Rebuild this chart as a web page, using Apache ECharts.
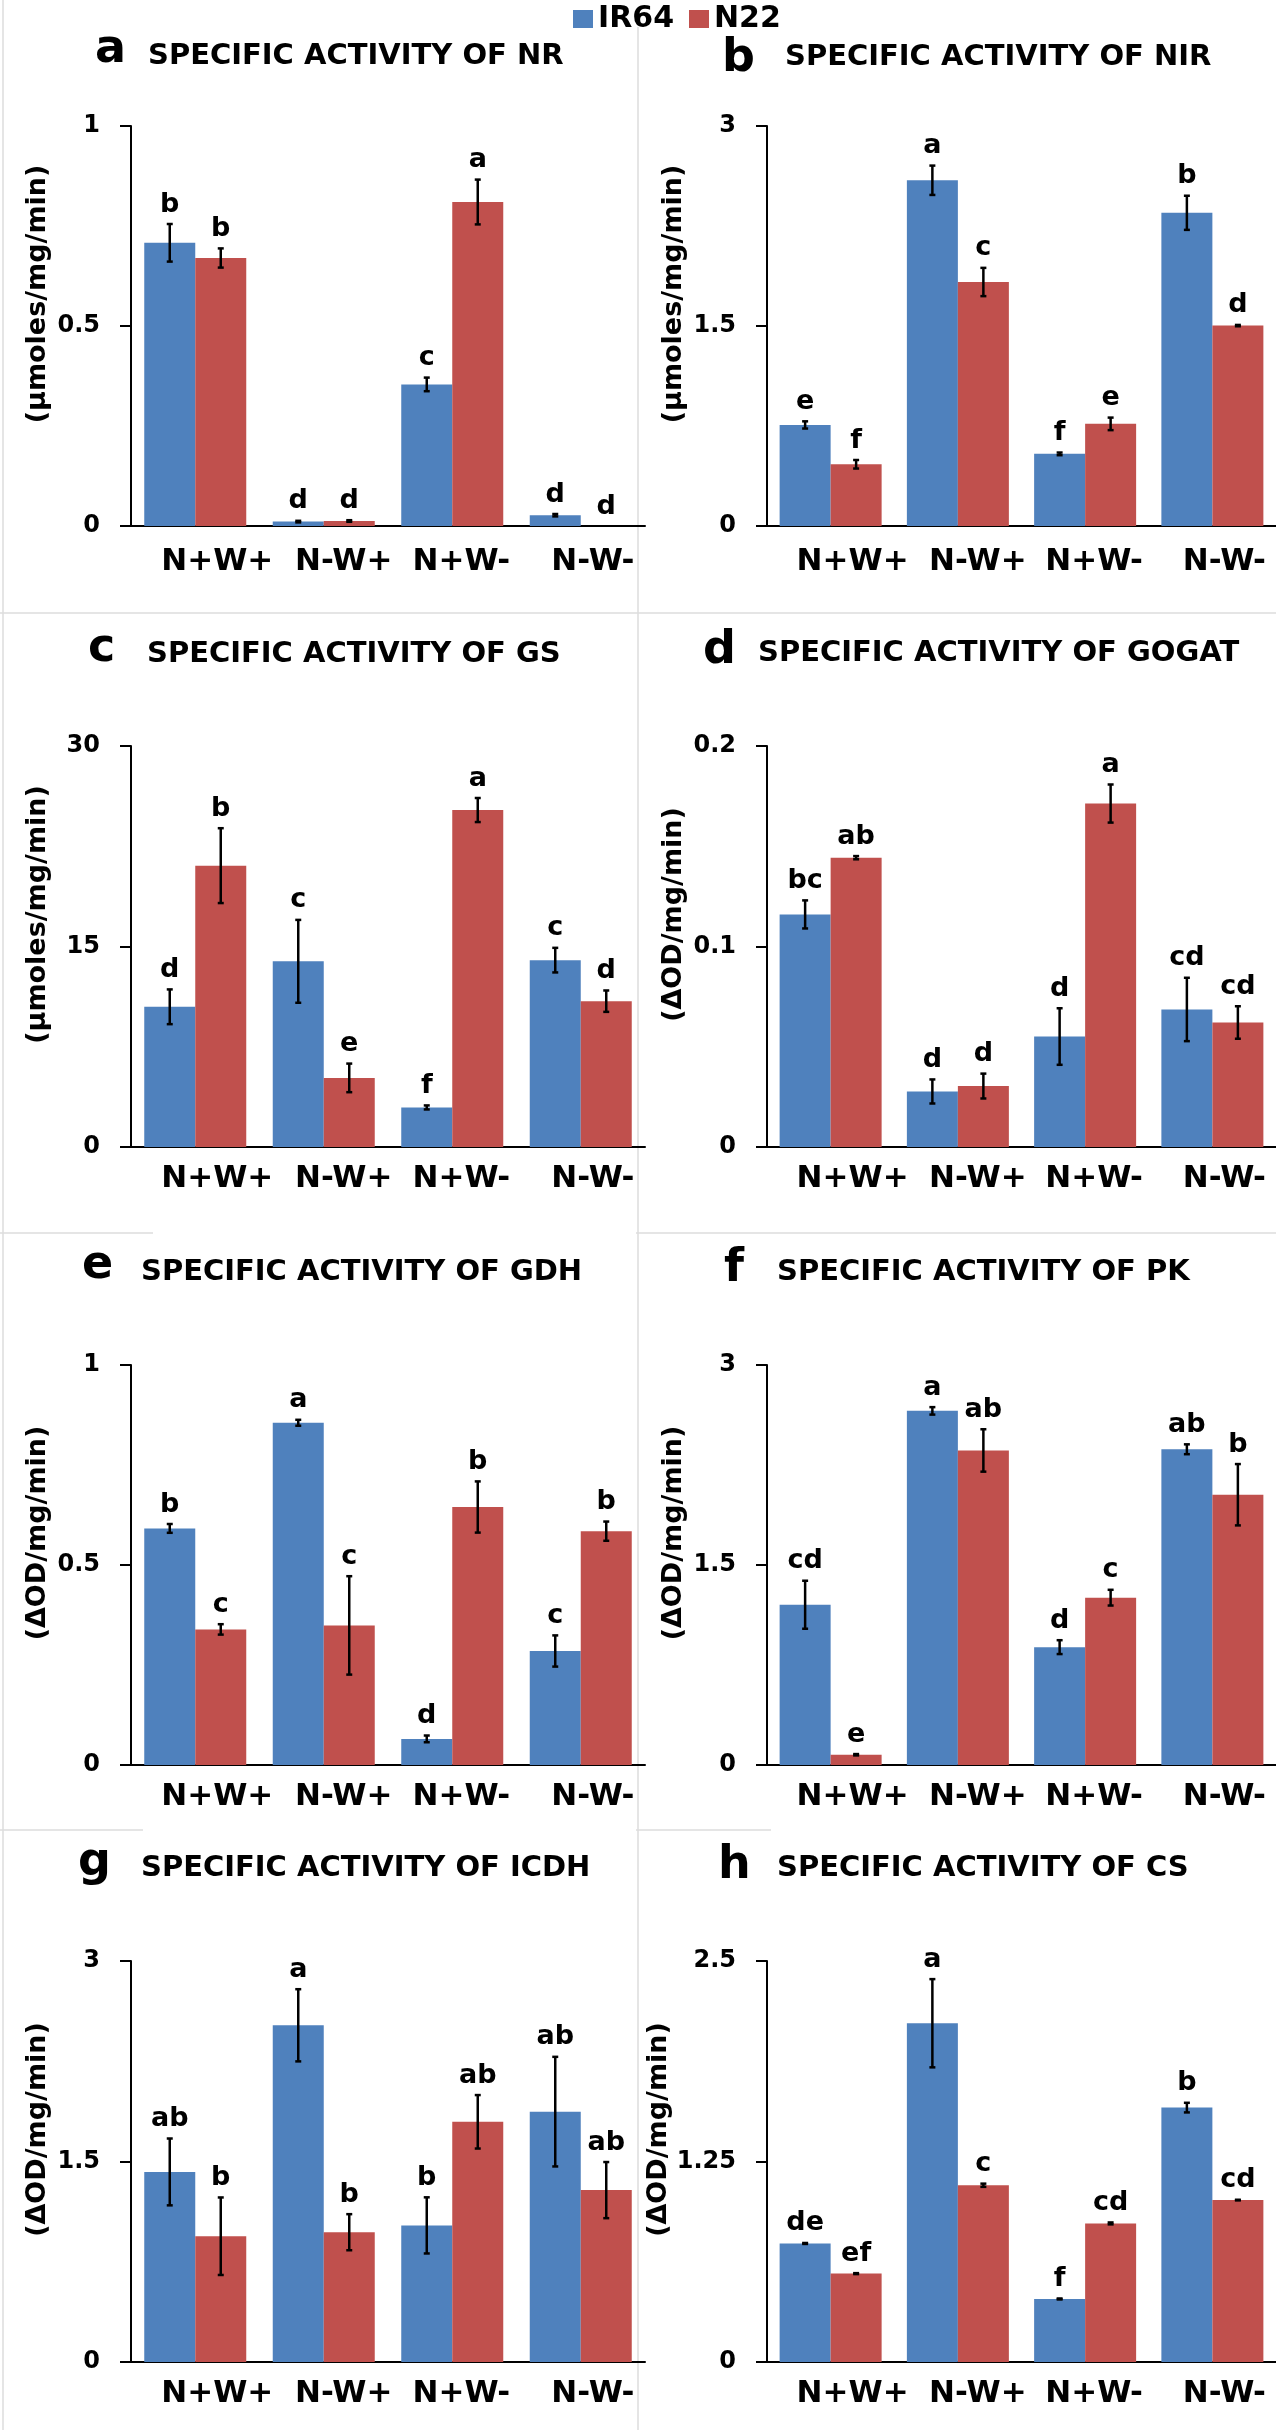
<!DOCTYPE html>
<html>
<head>
<meta charset="utf-8">
<script src="https://cdn.jsdelivr.net/npm/echarts@6/dist/echarts.min.js"></script>
<style>
html,body{margin:0;padding:0;background:#fff;}
#c{width:1276px;height:2430px;}
</style>
</head>
<body>
<div id="c"></div>
<script>
// ---------- data ----------
const CATEGORIES = ['N+W+', 'N-W+', 'N+W-', 'N-W-'];
const SERIES_NAMES = ['IR64', 'N22'];

// a: NR
const NR_IR64 = [0.708, 0.011, 0.354, 0.027];
const NR_IR64_ERR = [0.047, 0.002, 0.017, 0.003];
const NR_N22 = [0.670, 0.0125, 0.810, 0.0];
const NR_N22_ERR = [0.024, 0.002, 0.056, 0.0];
const NR_IR64_SIG = ['b', 'd', 'c', 'd'];
const NR_N22_SIG = ['b', 'd', 'a', 'd'];

// b: NIR
const NIR_IR64 = [0.758, 2.593, 0.541, 2.349];
const NIR_IR64_ERR = [0.027, 0.11, 0.01, 0.128];
const NIR_N22 = [0.463, 1.830, 0.766, 1.503];
const NIR_N22_ERR = [0.032, 0.106, 0.047, 0.005];
const NIR_IR64_SIG = ['e', 'a', 'f', 'b'];
const NIR_N22_SIG = ['f', 'c', 'e', 'd'];

// c: GS
const GS_IR64 = [10.49, 13.89, 2.96, 13.98];
const GS_IR64_ERR = [1.3, 3.1, 0.15, 0.92];
const GS_N22 = [21.05, 5.17, 25.21, 10.91];
const GS_N22_ERR = [2.8, 1.07, 0.9, 0.8];
const GS_IR64_SIG = ['d', 'c', 'f', 'c'];
const GS_N22_SIG = ['b', 'e', 'a', 'd'];

// d: GOGAT
const GOGAT_IR64 = [0.116, 0.0277, 0.0551, 0.0686];
const GOGAT_IR64_ERR = [0.007, 0.006, 0.0141, 0.0158];
const GOGAT_N22 = [0.1443, 0.0304, 0.1713, 0.0621];
const GOGAT_N22_ERR = [0.0008, 0.0062, 0.0095, 0.0081];
const GOGAT_IR64_SIG = ['bc', 'd', 'd', 'cd'];
const GOGAT_N22_SIG = ['ab', 'd', 'a', 'cd'];

// e: GDH
const GDH_IR64 = [0.5915, 0.8556, 0.0653, 0.285];
const GDH_IR64_ERR = [0.011, 0.0074, 0.0084, 0.039];
const GDH_N22 = [0.339, 0.349, 0.645, 0.5846];
const GDH_N22_ERR = [0.013, 0.123, 0.064, 0.024];
const GDH_IR64_SIG = ['b', 'a', 'd', 'c'];
const GDH_N22_SIG = ['c', 'c', 'b', 'b'];

// f: PK
const PK_IR64 = [1.202, 2.656, 0.884, 2.368];
const PK_IR64_ERR = [0.18, 0.028, 0.052, 0.037];
const PK_N22 = [0.077, 2.359, 1.255, 2.027];
const PK_N22_ERR = [0.005, 0.159, 0.059, 0.23];
const PK_IR64_SIG = ['cd', 'a', 'd', 'ab'];
const PK_N22_SIG = ['e', 'ab', 'c', 'b'];

// g: ICDH
const ICDH_IR64 = [1.422, 2.519, 1.022, 1.873];
const ICDH_IR64_ERR = [0.25, 0.27, 0.21, 0.41];
const ICDH_N22 = [0.941, 0.971, 1.797, 1.286];
const ICDH_N22_ERR = [0.29, 0.135, 0.2, 0.21];
const ICDH_IR64_SIG = ['ab', 'a', 'b', 'ab'];
const ICDH_N22_SIG = ['b', 'b', 'ab', 'ab'];

// h: CS
const CS_IR64 = [0.739, 2.112, 0.393, 1.586];
const CS_IR64_ERR = [0.003, 0.275, 0.003, 0.03];
const CS_N22 = [0.551, 1.102, 0.864, 1.0095];
const CS_N22_ERR = [0.003, 0.01, 0.006, 0.002];
const CS_IR64_SIG = ['de', 'a', 'f', 'b'];
const CS_N22_SIG = ['ef', 'c', 'cd', 'cd'];

const PANEL_LETTERS = ['a', 'b', 'c', 'd', 'e', 'f', 'g', 'h'];
const PANEL_TITLES = ['SPECIFIC ACTIVITY OF NR', 'SPECIFIC ACTIVITY OF NIR', 'SPECIFIC ACTIVITY OF GS',
  'SPECIFIC ACTIVITY OF GOGAT', 'SPECIFIC ACTIVITY OF GDH', 'SPECIFIC ACTIVITY OF PK',
  'SPECIFIC ACTIVITY OF ICDH', 'SPECIFIC ACTIVITY OF CS'];
const Y_NAMES = ['(µmoles/mg/min)', '(µmoles/mg/min)', '(µmoles/mg/min)', '(ΔOD/mg/min)',
  '(ΔOD/mg/min)', '(ΔOD/mg/min)', '(ΔOD/mg/min)', '(ΔOD/mg/min)'];
const Y_MAX = [1, 3, 30, 0.2, 1, 3, 3, 2.5];

const PANEL_DATA = [
  [NR_IR64, NR_IR64_ERR, NR_IR64_SIG, NR_N22, NR_N22_ERR, NR_N22_SIG],
  [NIR_IR64, NIR_IR64_ERR, NIR_IR64_SIG, NIR_N22, NIR_N22_ERR, NIR_N22_SIG],
  [GS_IR64, GS_IR64_ERR, GS_IR64_SIG, GS_N22, GS_N22_ERR, GS_N22_SIG],
  [GOGAT_IR64, GOGAT_IR64_ERR, GOGAT_IR64_SIG, GOGAT_N22, GOGAT_N22_ERR, GOGAT_N22_SIG],
  [GDH_IR64, GDH_IR64_ERR, GDH_IR64_SIG, GDH_N22, GDH_N22_ERR, GDH_N22_SIG],
  [PK_IR64, PK_IR64_ERR, PK_IR64_SIG, PK_N22, PK_N22_ERR, PK_N22_SIG],
  [ICDH_IR64, ICDH_IR64_ERR, ICDH_IR64_SIG, ICDH_N22, ICDH_N22_ERR, ICDH_N22_SIG],
  [CS_IR64, CS_IR64_ERR, CS_IR64_SIG, CS_N22, CS_N22_ERR, CS_N22_SIG]
];

// ---------- layout / style ----------
const FONT = '"DejaVu Sans", sans-serif';
const BLUE = '#4F81BD';
const RED = '#C0504D';
const COL_LEFT = [131, 767];
const ROW_TOP = [126, 746, 1365, 1961];
const ROW_H = [400, 401, 400, 401];
const GRID_W = 514;
const BAR_W = 51;
const LABEL_SHIFT = [44, 40, 18, 24];
// per panel: [letterX, letterTop, textX, textTop]
const TITLE_POS = [
  [95, 27, 148, 41.5], [722, 36, 785, 42.5],
  [88, 626, 147, 639.5], [703, 628, 758, 638.5],
  [82, 1243, 141, 1257.5], [724, 1246, 777, 1257.5],
  [78, 1840, 141, 1853.5], [718, 1843, 777, 1853.5]
];

const grids = [], xAxes = [], yAxes = [], series = [], titles = [];

function errRender(sign, sig) {
  return function (params, api) {
    const k = api.value(0), v = api.value(1), e = api.value(2);
    const base = api.coord([k, v]);
    const x = base[0] + sign * BAR_W / 2;
    const yTop = api.coord([k, v + e])[1];
    const yBot = api.coord([k, Math.max(v - e, 0)])[1];
    const children = [];
    if (e > 0) {
      const st = { stroke: '#000', lineWidth: 2.5 };
      children.push({ type: 'line', shape: { x1: x, y1: yTop, x2: x, y2: yBot }, style: st });
      children.push({ type: 'line', shape: { x1: x - 3, y1: yTop, x2: x + 3, y2: yTop }, style: st });
      children.push({ type: 'line', shape: { x1: x - 3, y1: yBot, x2: x + 3, y2: yBot }, style: st });
    }
    children.push({
      type: 'text', x: x, y: yTop - 6,
      style: { text: sig[params.dataIndex], fill: '#000', font: 'bold 27px ' + FONT,
        align: 'center', verticalAlign: 'bottom', textAlign: 'center', textVerticalAlign: 'bottom' }
    });
    return { type: 'group', children: children };
  };
}

const richLabels = {};
LABEL_SHIFT.forEach((s, i) => {
  richLabels['p' + i] = { padding: [0, 0, 0, s], fontFamily: FONT, fontWeight: 'bold', fontSize: 31, color: '#000' };
});

for (let i = 0; i < 8; i++) {
  const col = i % 2, row = Math.floor(i / 2);
  grids.push({ left: COL_LEFT[col], top: ROW_TOP[row], width: GRID_W, height: ROW_H[row] });
  xAxes.push({
    type: 'category', gridIndex: i, data: CATEGORIES,
    axisLine: { lineStyle: { color: '#000', width: 2 } },
    axisTick: { show: false },
    axisLabel: {
      margin: row === 0 ? 20 : 16, interval: 0, color: '#000', fontFamily: FONT, fontWeight: 'bold', fontSize: 31,
      formatter: (v, idx) => '{p' + idx + '|' + v + '}', rich: richLabels
    }
  });
  yAxes.push({
    type: 'value', gridIndex: i, min: 0, max: Y_MAX[i], interval: Y_MAX[i] / 2,
    axisLine: { show: true, lineStyle: { color: '#000', width: 2 } },
    axisTick: { show: true, length: 11, lineStyle: { color: '#000', width: 2 } },
    splitLine: { show: false },
    axisLabel: { color: '#000', fontFamily: FONT, fontWeight: 'bold', fontSize: 24, margin: 31 },
    name: Y_NAMES[i], nameLocation: 'middle', nameGap: 80,
    nameTextStyle: { color: '#000', fontFamily: FONT, fontWeight: 'bold', fontSize: 27, padding: [0, 0, 0, 64] }
  });
  const d = PANEL_DATA[i];
  series.push({ type: 'bar', name: SERIES_NAMES[0], xAxisIndex: i, yAxisIndex: i, data: d[0],
    barWidth: BAR_W, barGap: '0%', itemStyle: { color: BLUE } });
  series.push({ type: 'bar', name: SERIES_NAMES[1], xAxisIndex: i, yAxisIndex: i, data: d[3],
    barWidth: BAR_W, barGap: '0%', itemStyle: { color: RED } });
  series.push({ type: 'custom', xAxisIndex: i, yAxisIndex: i, z: 10, silent: true,
    encode: { x: 0, y: 1 },
    data: d[0].map((v, k) => [k, v, d[1][k]]), renderItem: errRender(-1, d[2]) });
  series.push({ type: 'custom', xAxisIndex: i, yAxisIndex: i, z: 10, silent: true,
    encode: { x: 0, y: 1 },
    data: d[3].map((v, k) => [k, v, d[4][k]]), renderItem: errRender(1, d[5]) });
  const tp = TITLE_POS[i];
  titles.push({ text: PANEL_LETTERS[i], left: tp[0], top: tp[1], padding: 0,
    textStyle: { fontFamily: FONT, fontWeight: 'bold', fontSize: 46, lineHeight: 46, color: '#000' } });
  titles.push({ text: PANEL_TITLES[i], left: tp[2], top: tp[3], padding: 0,
    textStyle: { fontFamily: FONT, fontWeight: 'bold', fontSize: 29, lineHeight: 29, color: '#000' } });
}

const BORDER = { stroke: '#dcdcdc', lineWidth: 1.5 };
const graphic = [
  { type: 'line', shape: { x1: 638, y1: 27, x2: 638, y2: 2430 }, style: BORDER, silent: true },
  { type: 'line', shape: { x1: 3, y1: 0, x2: 3, y2: 2430 }, style: BORDER, silent: true },
  { type: 'line', shape: { x1: 0, y1: 613, x2: 1276, y2: 613 }, style: BORDER, silent: true },
  { type: 'line', shape: { x1: 0, y1: 1233, x2: 153, y2: 1233 }, style: BORDER, silent: true },
  { type: 'line', shape: { x1: 636, y1: 1233, x2: 1276, y2: 1233 }, style: BORDER, silent: true },
  { type: 'line', shape: { x1: 0, y1: 1830, x2: 143, y2: 1830 }, style: BORDER, silent: true },
  { type: 'line', shape: { x1: 636, y1: 1830, x2: 771, y2: 1830 }, style: BORDER, silent: true }
];

const chart = echarts.init(document.getElementById('c'), null, { renderer: 'canvas', width: 1276, height: 2430 });
chart.setOption({
  animation: false,
  backgroundColor: '#fff',
  title: titles,
  legend: {
    data: SERIES_NAMES, left: 573, top: 4, padding: 0, itemWidth: 20, itemHeight: 18, itemGap: 15,
    icon: 'rect', selectedMode: false,
    textStyle: { fontFamily: FONT, fontWeight: 'bold', fontSize: 30, lineHeight: 30, color: '#000' }
  },
  grid: grids, xAxis: xAxes, yAxis: yAxes, series: series, graphic: graphic
});
</script>
</body>
</html>
